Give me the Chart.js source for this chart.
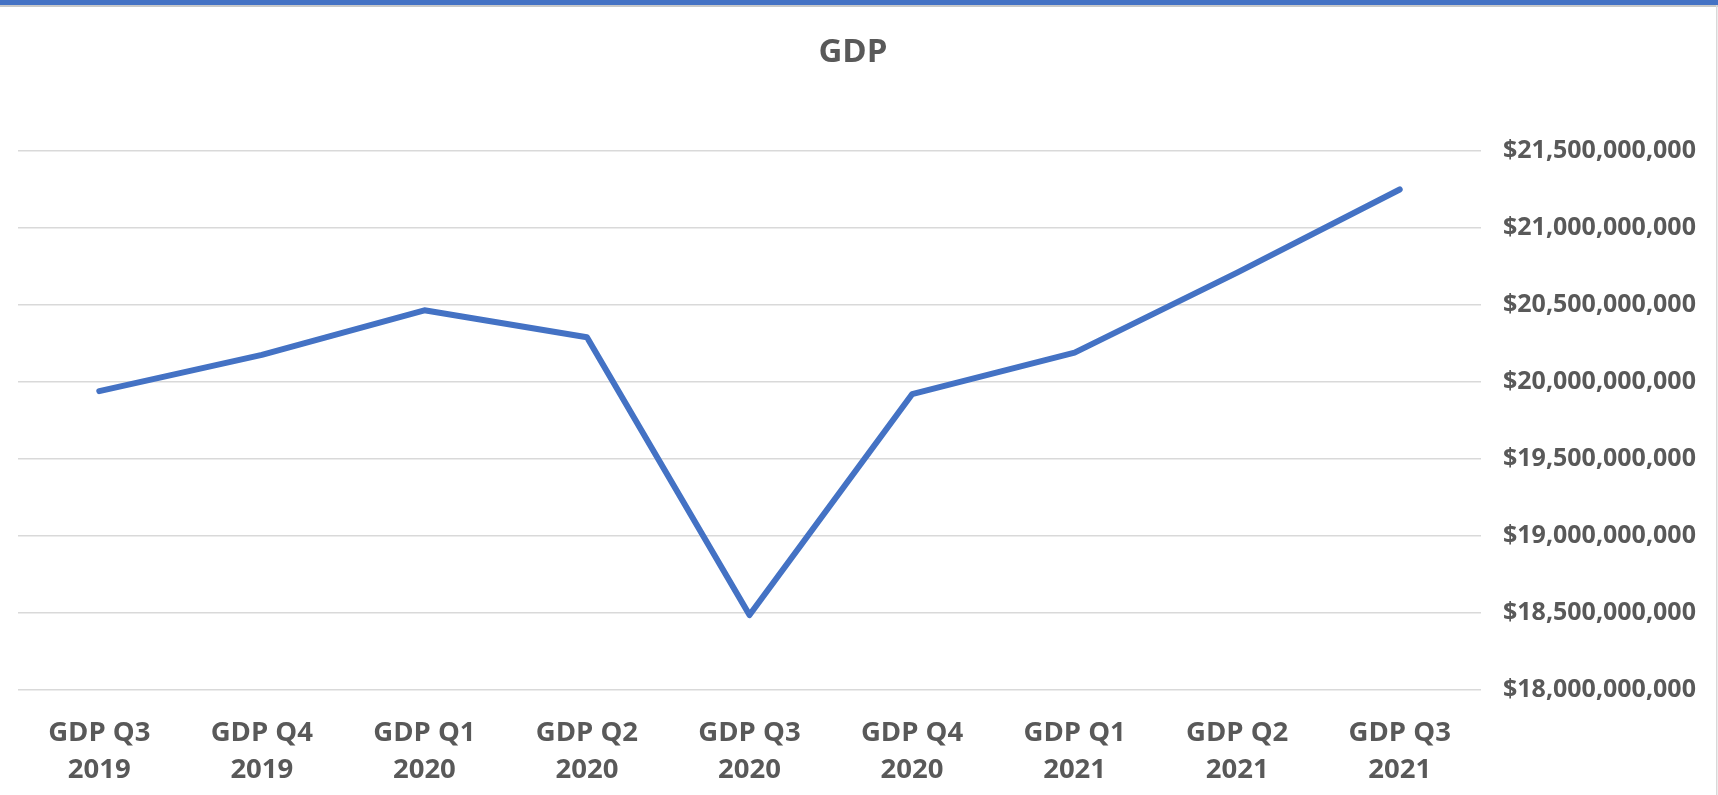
<!DOCTYPE html>
<html>
<head>
<meta charset="utf-8">
<title>GDP</title>
<script src="https://cdn.jsdelivr.net/npm/chart.js@4.4.1/dist/chart.umd.min.js"></script>
<style>
  html, body { margin: 0; padding: 0; background: #ffffff; }
  #wrap { width: 1718px; height: 795px; position: relative; }
</style>
</head>
<body>
<div id="wrap"><canvas id="gdpChart"></canvas></div>
<script>
// quarter labels (two lines each)
const quarters = [
  ['GDP Q3', '2019'], ['GDP Q4', '2019'], ['GDP Q1', '2020'],
  ['GDP Q2', '2020'], ['GDP Q3', '2020'], ['GDP Q4', '2020'],
  ['GDP Q1', '2021'], ['GDP Q2', '2021'], ['GDP Q3', '2021']
];
// values
const gdpValues = [
  19940000000, 20175000000, 20465000000, 20290000000, 18485000000,
  19920000000, 20190000000, 20710000000, 21250000000
];
const yMin = 18000000000;
const yMax = 21500000000;
const yStep = 500000000;

const textColor = '#595959';

// blue strip on top and thin frame at the right, like the Excel chart box
const framePlugin = {
  id: 'frame',
  beforeDraw(chart) {
    const ctx = chart.ctx;
    ctx.save();
    ctx.fillStyle = '#ffffff';
    ctx.fillRect(0, 0, chart.width, chart.height);
    ctx.fillStyle = '#4472C4';
    ctx.fillRect(0, 0, chart.width, 5);
    ctx.fillStyle = '#c8c8c8';
    ctx.fillRect(0, 5, chart.width, 2);
    ctx.fillStyle = '#d9d9d9';
    ctx.fillRect(chart.width - 2, 5, 1.5, chart.height);
    ctx.restore();
  },
  // title is centred on the whole box in Excel, not on the padded area
  afterDraw(chart) {
    const t = chart.titleBlock;
    if (!t) return;
    const ctx = chart.ctx;
    ctx.save();
    ctx.fillStyle = textColor;
    ctx.font = 'bold 33px "Open Sans"';
    ctx.textAlign = 'center';
    ctx.textBaseline = 'middle';
    ctx.fillText('GDP', 853, t.top + t.options.padding.top + t.height / 2 - (t.options.padding.top + t.options.padding.bottom) / 2);
    ctx.restore();
  }
};

const ctx = document.getElementById('gdpChart').getContext('2d');
new Chart(ctx, {
  type: 'line',
  data: {
    labels: quarters,
    datasets: [
      {
        label: 'GDP',
        data: gdpValues,
        borderColor: '#4472C4',
        borderWidth: 6,
        borderCapStyle: 'round',
        borderJoinStyle: 'round',
        pointRadius: 0,
        tension: 0,
        fill: false,
      },
    ],
  },
  options: {
    responsive: true,
    maintainAspectRatio: false,
    animation: false,
    layout: { padding: { left: 18, right: 0, top: 0, bottom: 0 } },
    plugins: {
      legend: { display: false },
      tooltip: { enabled: false },
      title: {
        display: true,
        text: 'GDP',
        color: 'rgba(0,0,0,0)',
        font: { family: 'Open Sans', size: 30, weight: 'bold', lineHeight: 1.2 },
        padding: { top: 35, bottom: 80 },
      },
    },
    scales: {
      x: {
        offset: true,
        grid: { display: false, drawTicks: false },
        border: { display: false },
        ticks: {
          color: textColor,
          maxRotation: 0,
          autoSkip: false,
          padding: 24,
          font: { family: 'Open Sans', size: 27.5, weight: 'bold', lineHeight: 1.38 },
        },
        afterFit(scale) { scale.height = 105.3; },
      },
      y: {
        position: 'right',
        min: yMin,
        max: yMax,
        grid: { color: '#d9d9d9', lineWidth: 1.4, drawTicks: false },
        border: { display: false },
        ticks: {
          stepSize: yStep,
          color: textColor,
          padding: 22,
          font: { family: 'Open Sans', size: 25, weight: 'bold' },
          callback: (v) => '$' + Number(v).toLocaleString('en-US'),
        },
        afterFit(scale) { scale.width = 237; },
      },
    },
  },
  plugins: [framePlugin],
});
</script>
</body>
</html>
